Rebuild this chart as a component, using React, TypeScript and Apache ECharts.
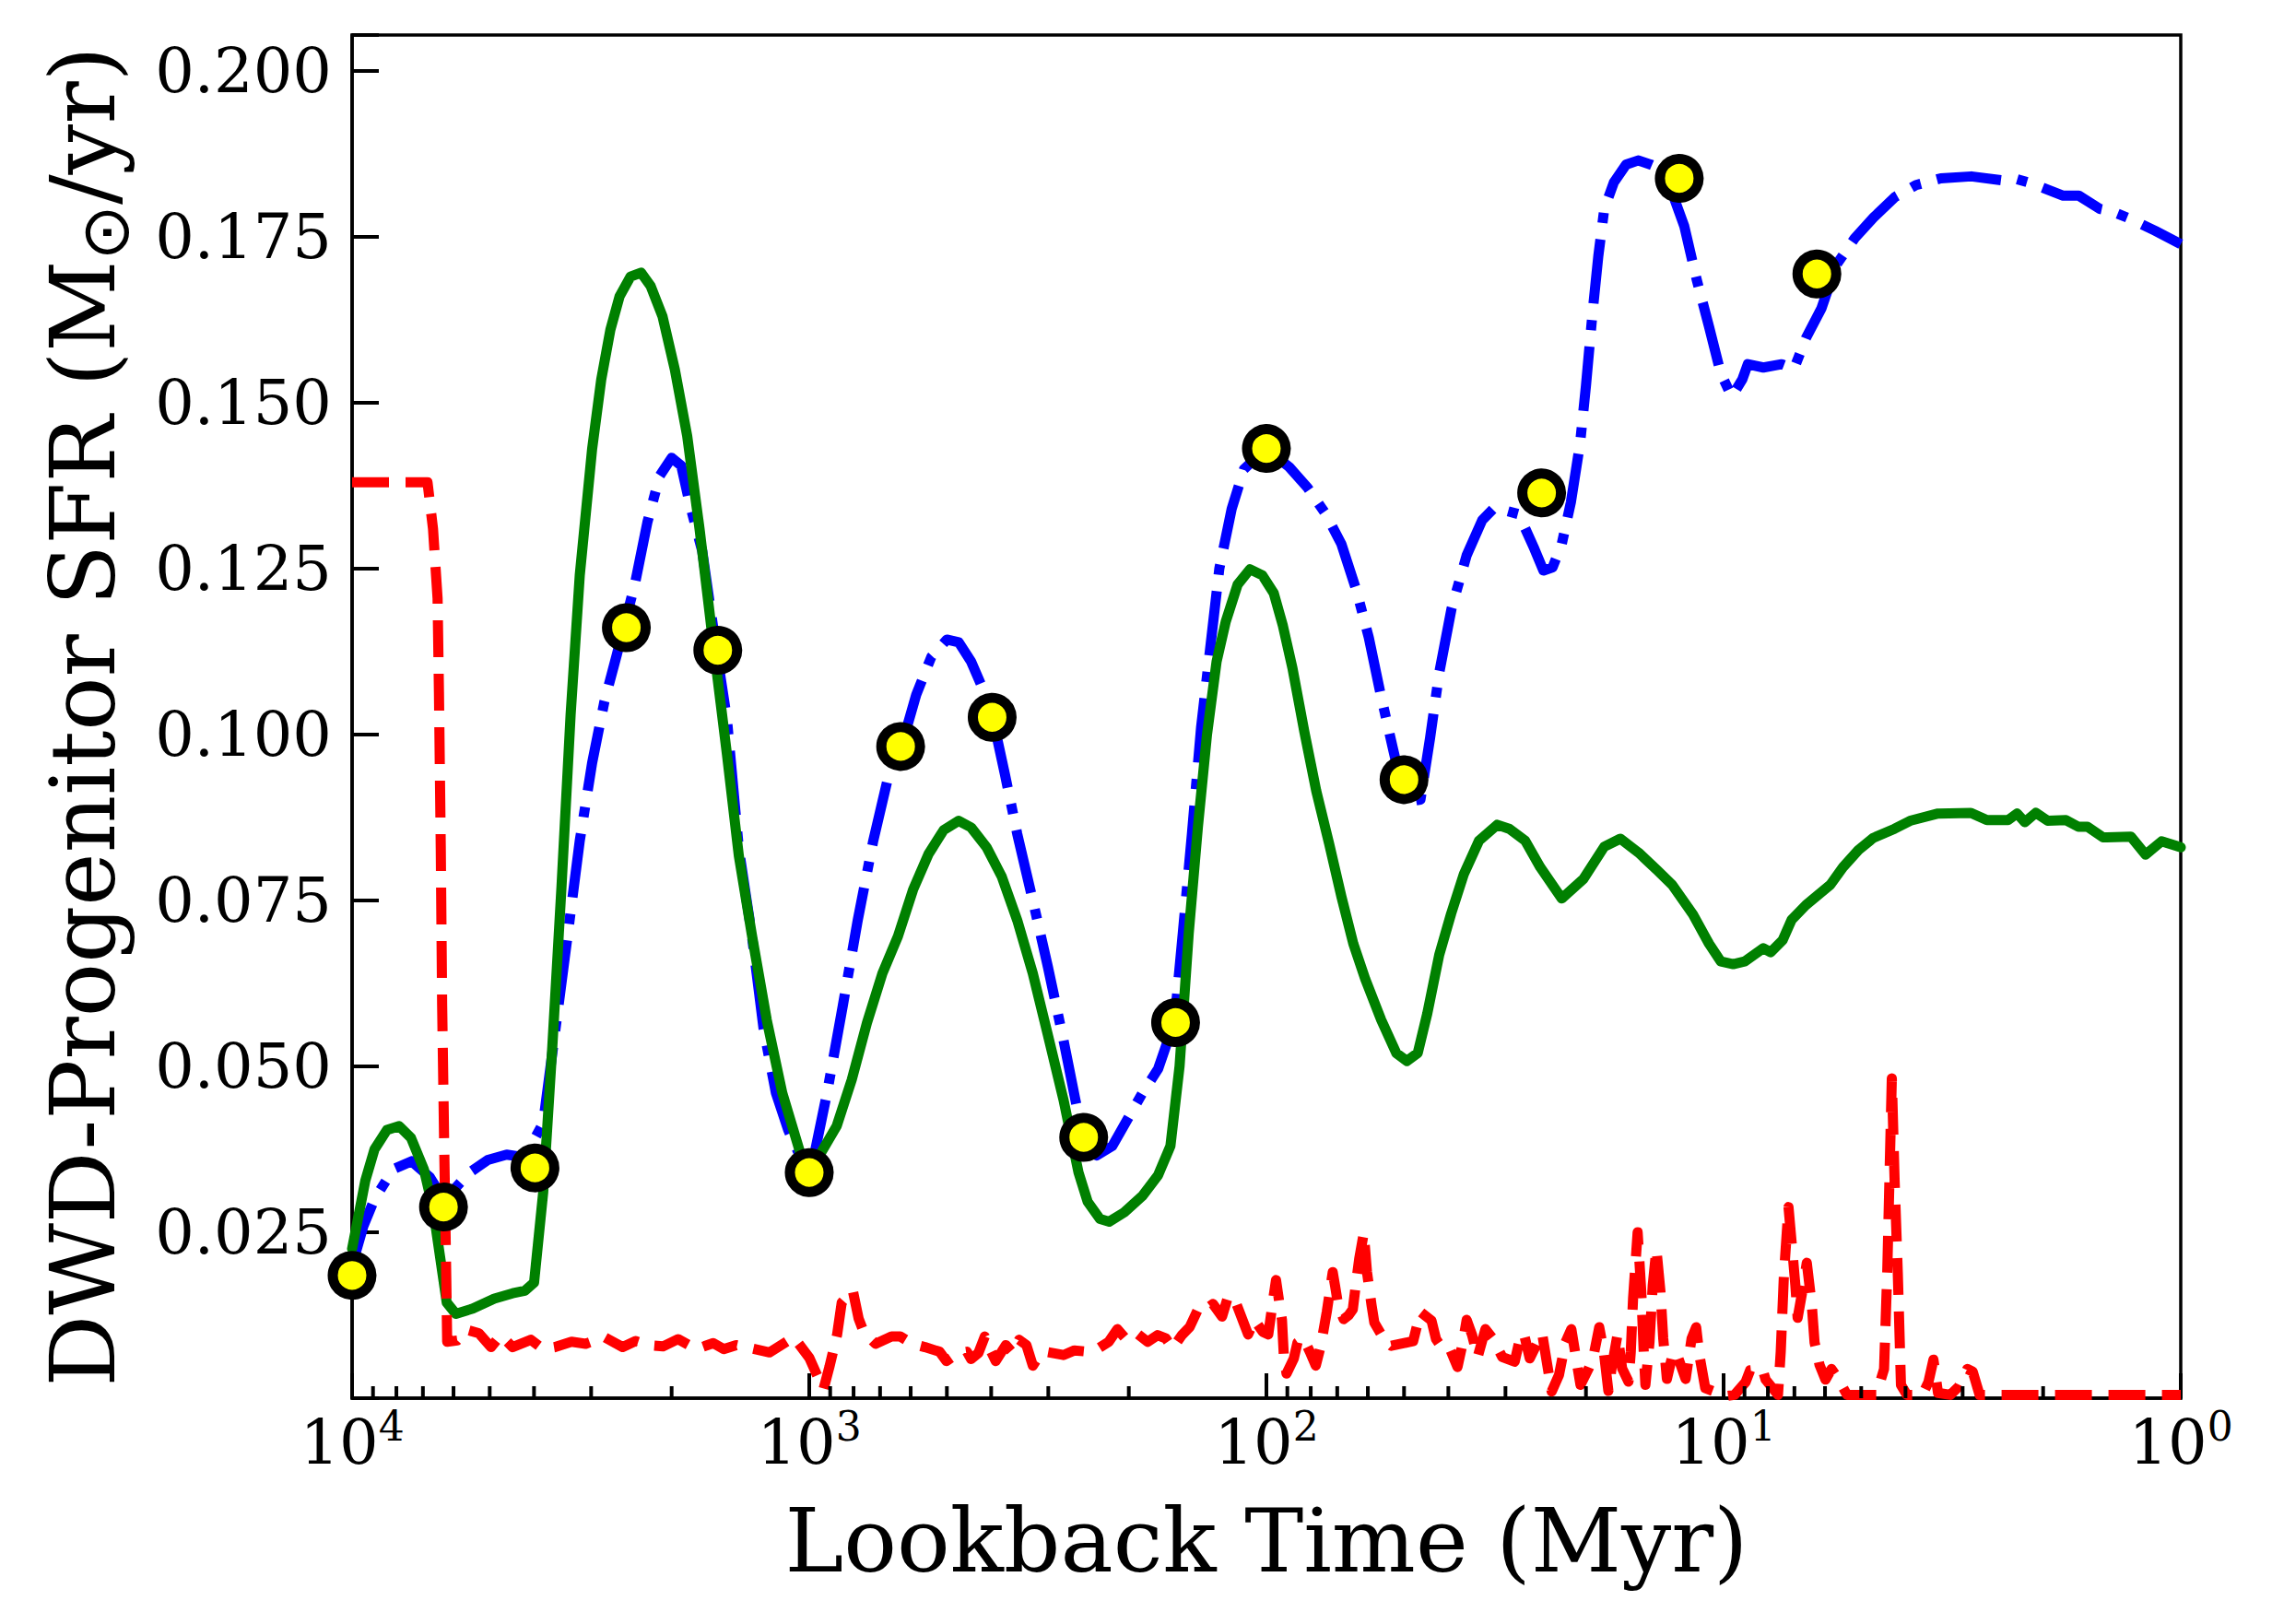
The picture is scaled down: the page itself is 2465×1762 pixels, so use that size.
import React, { useEffect, useRef } from "react";
import * as echarts from "echarts";

// [log10(lookback time / Myr), SFR (Msun/yr)]
const bluePoints: number[][] = [
  [4.0, 0.02], [3.975, 0.026], [3.951, 0.03], [3.91, 0.0345], [3.87, 0.0357], [3.83, 0.0333], [3.8, 0.03],
  [3.783, 0.031], [3.743, 0.034], [3.703, 0.0359], [3.662, 0.0367], [3.622, 0.0363], [3.582, 0.0415],
  [3.555, 0.0557], [3.528, 0.07], [3.502, 0.084], [3.475, 0.0957], [3.448, 0.105], [3.421, 0.112],
  [3.381, 0.1228], [3.354, 0.132], [3.327, 0.139], [3.301, 0.1417], [3.28, 0.1405], [3.261, 0.1346],
  [3.234, 0.1276], [3.203, 0.1127], [3.18, 0.1023], [3.154, 0.0828], [3.126, 0.07], [3.1, 0.0557],
  [3.073, 0.046], [3.046, 0.0404], [3.019, 0.0363], [2.994, 0.035], [2.961, 0.046], [2.927, 0.059],
  [2.894, 0.072], [2.86, 0.084], [2.826, 0.094], [2.798, 0.0983], [2.766, 0.106], [2.733, 0.1117],
  [2.699, 0.1143], [2.673, 0.1139], [2.646, 0.111], [2.619, 0.1067], [2.599, 0.1026], [2.572, 0.094],
  [2.545, 0.085], [2.511, 0.075], [2.478, 0.065], [2.444, 0.054], [2.418, 0.045], [2.401, 0.0394],
  [2.371, 0.0366], [2.337, 0.038], [2.304, 0.042], [2.271, 0.046], [2.237, 0.0496], [2.201, 0.0568],
  [2.183, 0.07], [2.163, 0.085], [2.143, 0.101], [2.123, 0.113], [2.103, 0.125], [2.076, 0.134],
  [2.049, 0.14], [2.001, 0.1431], [1.95, 0.1403], [1.91, 0.1372], [1.87, 0.1332], [1.836, 0.1287],
  [1.803, 0.1217], [1.776, 0.1146], [1.749, 0.1057], [1.723, 0.0978], [1.696, 0.0898], [1.663, 0.0902],
  [1.642, 0.0995], [1.622, 0.1093], [1.595, 0.119], [1.562, 0.127], [1.528, 0.1323], [1.501, 0.1342],
  [1.448, 0.1332], [1.414, 0.128], [1.394, 0.1247], [1.374, 0.1252], [1.354, 0.1287], [1.334, 0.135],
  [1.314, 0.1438], [1.301, 0.1526], [1.287, 0.1633], [1.274, 0.1721], [1.261, 0.1792], [1.24, 0.1832],
  [1.213, 0.1859], [1.187, 0.1865], [1.16, 0.1859], [1.13, 0.185], [1.086, 0.1766], [1.059, 0.1686],
  [1.032, 0.1615], [1.006, 0.1544], [0.982, 0.1509], [0.959, 0.1535], [0.947, 0.1558], [0.913, 0.1553],
  [0.873, 0.1558], [0.846, 0.1551], [0.82, 0.1597], [0.786, 0.1642], [0.753, 0.1708], [0.713, 0.1748],
  [0.672, 0.1779], [0.625, 0.181], [0.579, 0.1828], [0.525, 0.1838], [0.458, 0.1841], [0.391, 0.1835],
  [0.364, 0.1838], [0.324, 0.183], [0.257, 0.1812], [0.223, 0.1812], [0.177, 0.1792], [0.15, 0.1788],
  [0.11, 0.1777], [0.056, 0.1759], [0.0, 0.1739],
];

const greenPoints: number[][] = [
  [4.0, 0.0225], [3.971, 0.0328], [3.951, 0.0375], [3.924, 0.0404], [3.897, 0.041], [3.871, 0.0392],
  [3.843, 0.0345], [3.823, 0.0286], [3.793, 0.0144], [3.773, 0.0127], [3.736, 0.0135], [3.689, 0.015],
  [3.649, 0.0158], [3.622, 0.0162], [3.602, 0.0174], [3.582, 0.031], [3.562, 0.053], [3.542, 0.077],
  [3.522, 0.103], [3.502, 0.124], [3.475, 0.143], [3.455, 0.1535], [3.435, 0.161], [3.415, 0.166],
  [3.391, 0.169], [3.368, 0.1696], [3.347, 0.1676], [3.321, 0.163], [3.294, 0.155], [3.267, 0.145],
  [3.24, 0.131], [3.214, 0.116], [3.18, 0.097], [3.154, 0.0817], [3.126, 0.07], [3.093, 0.057],
  [3.059, 0.046], [3.019, 0.0368], [3.0, 0.033], [2.974, 0.037], [2.94, 0.041], [2.907, 0.048],
  [2.874, 0.0565], [2.84, 0.064], [2.806, 0.0696], [2.773, 0.0766], [2.739, 0.082], [2.706, 0.0856],
  [2.673, 0.087], [2.646, 0.086], [2.612, 0.083], [2.579, 0.0786], [2.545, 0.072], [2.511, 0.064],
  [2.479, 0.055], [2.444, 0.045], [2.411, 0.034], [2.391, 0.0296], [2.364, 0.027], [2.344, 0.0266],
  [2.311, 0.028], [2.271, 0.0305], [2.237, 0.0336], [2.21, 0.038], [2.19, 0.05], [2.17, 0.07],
  [2.15, 0.086], [2.13, 0.1], [2.109, 0.111], [2.089, 0.117], [2.063, 0.1226], [2.036, 0.1249],
  [2.009, 0.124], [1.984, 0.1213], [1.964, 0.1164], [1.943, 0.11], [1.917, 0.1004], [1.891, 0.0915],
  [1.863, 0.0836], [1.836, 0.0756], [1.81, 0.0685], [1.784, 0.0632], [1.749, 0.057], [1.716, 0.052],
  [1.693, 0.0508], [1.669, 0.052], [1.648, 0.058], [1.622, 0.0668], [1.596, 0.073], [1.568, 0.079],
  [1.535, 0.084], [1.495, 0.0864], [1.469, 0.0858], [1.434, 0.084], [1.401, 0.08], [1.354, 0.0753],
  [1.307, 0.0782], [1.261, 0.0831], [1.226, 0.0843], [1.186, 0.0822], [1.146, 0.0796], [1.113, 0.0774],
  [1.067, 0.0729], [1.032, 0.0685], [1.006, 0.0658], [0.979, 0.0654], [0.954, 0.0658], [0.913, 0.0678],
  [0.897, 0.0672], [0.871, 0.069], [0.851, 0.0721], [0.82, 0.0743], [0.766, 0.0774], [0.739, 0.08],
  [0.705, 0.0826], [0.673, 0.0844], [0.626, 0.0858], [0.592, 0.087], [0.531, 0.0881], [0.459, 0.0882],
  [0.424, 0.0871], [0.378, 0.0871], [0.358, 0.0881], [0.341, 0.0868], [0.317, 0.0882], [0.291, 0.087],
  [0.251, 0.0871], [0.224, 0.0861], [0.204, 0.0861], [0.17, 0.0845], [0.109, 0.0846], [0.077, 0.0819],
  [0.042, 0.0839], [0.0, 0.083],
];

const redPoints: number[][] = [
  [4.0, 0.138], [3.835, 0.138], [3.823, 0.131], [3.813, 0.1205], [3.81, 0.1064], [3.806, 0.0828],
  [3.803, 0.0592], [3.798, 0.0357], [3.794, 0.0181], [3.792, 0.0085], [3.77, 0.0087], [3.749, 0.0103],
  [3.723, 0.0098], [3.696, 0.0077], [3.675, 0.0095], [3.649, 0.0077], [3.609, 0.0088], [3.582, 0.0074],
  [3.556, 0.0077], [3.52, 0.0085], [3.489, 0.0082], [3.448, 0.0092], [3.408, 0.0077], [3.38, 0.0086],
  [3.354, 0.008], [3.32, 0.0078], [3.287, 0.0089], [3.247, 0.0074], [3.21, 0.0083], [3.187, 0.0074],
  [3.16, 0.008], [3.14, 0.0077], [3.087, 0.0069], [3.034, 0.0092], [3.0, 0.0061], [2.969, 0.0013],
  [2.956, 0.0047], [2.939, 0.0096], [2.929, 0.0144], [2.905, 0.0163], [2.892, 0.012], [2.881, 0.01],
  [2.855, 0.0082], [2.82, 0.0093], [2.801, 0.0093], [2.775, 0.0082], [2.747, 0.0077], [2.715, 0.007],
  [2.7, 0.0056], [2.675, 0.0068], [2.655, 0.007], [2.646, 0.0059], [2.63, 0.0068], [2.616, 0.0093],
  [2.605, 0.0074], [2.592, 0.0056], [2.57, 0.008], [2.555, 0.0068], [2.541, 0.0088], [2.525, 0.008],
  [2.511, 0.0049], [2.495, 0.0066], [2.484, 0.007], [2.444, 0.0065], [2.42, 0.0072], [2.39, 0.007],
  [2.37, 0.0074], [2.345, 0.0085], [2.326, 0.0104], [2.306, 0.0088], [2.282, 0.0097], [2.26, 0.0085],
  [2.238, 0.0095], [2.22, 0.009], [2.205, 0.0075], [2.185, 0.0095], [2.168, 0.0107], [2.147, 0.0138],
  [2.13, 0.0135], [2.117, 0.0142], [2.097, 0.0123], [2.084, 0.0153], [2.07, 0.015], [2.04, 0.0096],
  [2.026, 0.0118], [2.008, 0.01], [1.996, 0.0096], [1.985, 0.015], [1.979, 0.0178], [1.972, 0.0145],
  [1.966, 0.0118], [1.962, 0.0065], [1.956, 0.0037], [1.94, 0.006], [1.932, 0.0084], [1.919, 0.009],
  [1.905, 0.007], [1.892, 0.0049], [1.881, 0.0079], [1.868, 0.013], [1.855, 0.019], [1.85, 0.017],
  [1.843, 0.014], [1.831, 0.0119], [1.82, 0.0125], [1.811, 0.0134], [1.805, 0.0168], [1.797, 0.021],
  [1.787, 0.0249], [1.78, 0.019], [1.77, 0.014], [1.764, 0.0114], [1.743, 0.0089], [1.727, 0.0079],
  [1.679, 0.0086], [1.663, 0.013], [1.639, 0.0117], [1.629, 0.0089], [1.615, 0.0075], [1.599, 0.0075],
  [1.582, 0.0047], [1.57, 0.0085], [1.562, 0.0118], [1.55, 0.0095], [1.538, 0.0062], [1.521, 0.0104],
  [1.505, 0.009], [1.484, 0.0062], [1.457, 0.0055], [1.447, 0.0085], [1.437, 0.0098], [1.424, 0.006],
  [1.397, 0.0098], [1.388, 0.006], [1.376, 0.001], [1.36, 0.0035], [1.346, 0.0084], [1.333, 0.0104],
  [1.32, 0.0049], [1.313, 0.002], [1.295, 0.0045], [1.285, 0.0062], [1.272, 0.0107], [1.262, 0.007],
  [1.252, 0.0011], [1.245, 0.0045], [1.232, 0.0096], [1.222, 0.0045], [1.208, 0.0025], [1.203, 0.007],
  [1.198, 0.015], [1.188, 0.025], [1.18, 0.016], [1.175, 0.0075], [1.171, 0.002], [1.162, 0.0085],
  [1.155, 0.017], [1.147, 0.0225], [1.138, 0.016], [1.132, 0.009], [1.124, 0.0029], [1.11, 0.007],
  [1.1, 0.0062], [1.083, 0.0029], [1.07, 0.009], [1.06, 0.0107], [1.053, 0.0065], [1.04, 0.0015],
  [1.02, 0.001], [0.996, 0.0003], [0.976, 0.0005], [0.952, 0.0024], [0.942, 0.0042], [0.915, 0.0044],
  [0.908, 0.0028], [0.881, 0.0005], [0.875, 0.007], [0.868, 0.0186], [0.858, 0.0288], [0.848, 0.021],
  [0.843, 0.017], [0.838, 0.0121], [0.828, 0.016], [0.818, 0.0204], [0.807, 0.014], [0.801, 0.0084],
  [0.79, 0.005], [0.777, 0.0028], [0.764, 0.0044], [0.75, 0.003], [0.73, 0.0005], [0.666, 0.0005],
  [0.649, 0.0044], [0.642, 0.019], [0.632, 0.0482], [0.626, 0.033], [0.619, 0.019], [0.612, 0.002],
  [0.599, 0.0005], [0.565, 0.0005], [0.552, 0.0024], [0.541, 0.0058], [0.531, 0.0008], [0.504, 0.0005],
  [0.485, 0.0018], [0.467, 0.0044], [0.455, 0.004], [0.44, 0.0005], [0.0, 0.0005],
];

// sampled points (lookback time in Myr, SFR)
const markerTime: number[] = [10000, 6310, 3981, 2512, 1585, 1000, 631, 398, 251, 158, 100, 50, 25, 12.5, 6.25];
const markerSfr: number[] = [0.0185, 0.0288, 0.0347, 0.1161, 0.1127, 0.034, 0.0982, 0.1026, 0.0393, 0.0566, 0.1431, 0.0932, 0.1364, 0.1838, 0.1694];

const minorTickTimes: number[] = [
  9000, 8000, 7000, 6000, 5000, 4000, 3000, 2000,
  900, 800, 700, 600, 500, 400, 300, 200,
  90, 80, 70, 60, 50, 40, 30, 20,
  9, 8, 7, 6, 5, 4, 3, 2,
];

const yTickStep = 0.025;

const W = 2449;
const H = 1746;
const SERIF = "DejaVu Serif";
const LW = 11;

function toXY(points: number[][]) {
  return points.map((p) => [Math.pow(10, p[0]), p[1]]);
}

export default function App() {
  const ref = useRef<HTMLDivElement>(null);

  useEffect(() => {
    if (!ref.current) return;
    const chart = echarts.init(ref.current, undefined, { renderer: "svg" });
    const option: any = {
      animation: false,
      grid: {
        left: 374,
        right: 91,
        top: 30,
        bottom: 237,
        show: true,
        borderColor: "#000",
        borderWidth: 3.5,
        backgroundColor: "transparent",
      },
      xAxis: {
        type: "log",
        logBase: 10,
        min: 1,
        max: 10000,
        inverse: true,
        name: "Lookback Time (Myr)",
        nameLocation: "middle",
        nameGap: 107,
        nameTextStyle: { fontFamily: SERIF, fontSize: 96, color: "#000" },
        axisLine: { show: true, onZero: false, lineStyle: { color: "#000", width: 3.5 } },
        axisTick: { show: true, inside: true, length: 27, lineStyle: { color: "#000", width: 4 } },
        minorTick: { show: false },
        splitLine: { show: false },
        axisLabel: {
          margin: 8,
          formatter: (v: number) => `{m|10}{s|${Math.round(Math.log10(v))}}`,
          rich: {
            m: { fontFamily: SERIF, fontSize: 67, lineHeight: 80, color: "#000" },
            s: { fontFamily: SERIF, fontSize: 44, lineHeight: 44, verticalAlign: "top", color: "#000" },
          },
        },
      },
      yAxis: {
        type: "value",
        min: 0,
        max: 0.2054,
        interval: yTickStep,
        name: "{m|DWD-Progenitor SFR (M}{s|⊙}{m|/yr)}",
        nameLocation: "middle",
        nameRotate: 90,
        nameGap: 232,
        nameTextStyle: {
          rich: {
            m: { fontFamily: SERIF, fontSize: 97, lineHeight: 120, color: "#000" },
            s: { fontFamily: "DejaVu Sans", fontSize: 72, lineHeight: 72, verticalAlign: "bottom", color: "#000" },
          },
        },
        axisLine: { show: true, lineStyle: { color: "#000", width: 3.5 } },
        axisTick: { show: true, inside: true, length: 29, lineStyle: { color: "#000", width: 4 } },
        splitLine: { show: false },
        axisLabel: {
          margin: 22,
          fontFamily: SERIF,
          fontSize: 67,
          color: "#000",
          formatter: (v: number) => {
            const k = v / yTickStep;
            if (v <= 0 || Math.abs(k - Math.round(k)) > 1e-6) return "";
            return v.toFixed(3);
          },
        },
      },
      series: [
        {
          type: "line",
          name: "blue",
          data: toXY(bluePoints),
          showSymbol: false,
          symbol: "none",
          z: 2,
          lineStyle: { color: "#0000ff", width: LW, type: [70, 18, 11, 18], cap: "butt", join: "round" },
          silent: true,
        },
        {
          type: "line",
          name: "green",
          data: toXY(greenPoints),
          showSymbol: false,
          symbol: "none",
          z: 3,
          lineStyle: { color: "#008000", width: LW, type: "solid", cap: "round", join: "round" },
          silent: true,
        },
        {
          type: "line",
          name: "red",
          data: toXY(redPoints),
          showSymbol: false,
          symbol: "none",
          z: 4,
          lineStyle: { color: "#ff0000", width: LW, type: [40, 18], cap: "butt", join: "round" },
          silent: true,
        },
        {
          type: "scatter",
          name: "samples",
          data: markerTime.map((t, i) => [t, markerSfr[i]]),
          symbol: "circle",
          symbolSize: 42,
          z: 5,
          itemStyle: { color: "#ffff00", borderColor: "#000", borderWidth: 11, opacity: 1 },
          silent: true,
        },
        {
          type: "custom",
          name: "minorTicks",
          data: minorTickTimes.map((t) => [t, 0]),
          z: 6,
          silent: true,
          clip: false,
          renderItem: (_params: any, api: any) => {
            const c = api.coord([api.value(0), 0]);
            return {
              type: "line",
              shape: { x1: c[0], y1: c[1], x2: c[0], y2: c[1] - 13 },
              style: { stroke: "#000", lineWidth: 4 },
            };
          },
        },
      ],
    };
    chart.setOption(option);
    return () => chart.dispose();
  }, []);

  return <div ref={ref} style={{ width: W, height: H }} />;
}
